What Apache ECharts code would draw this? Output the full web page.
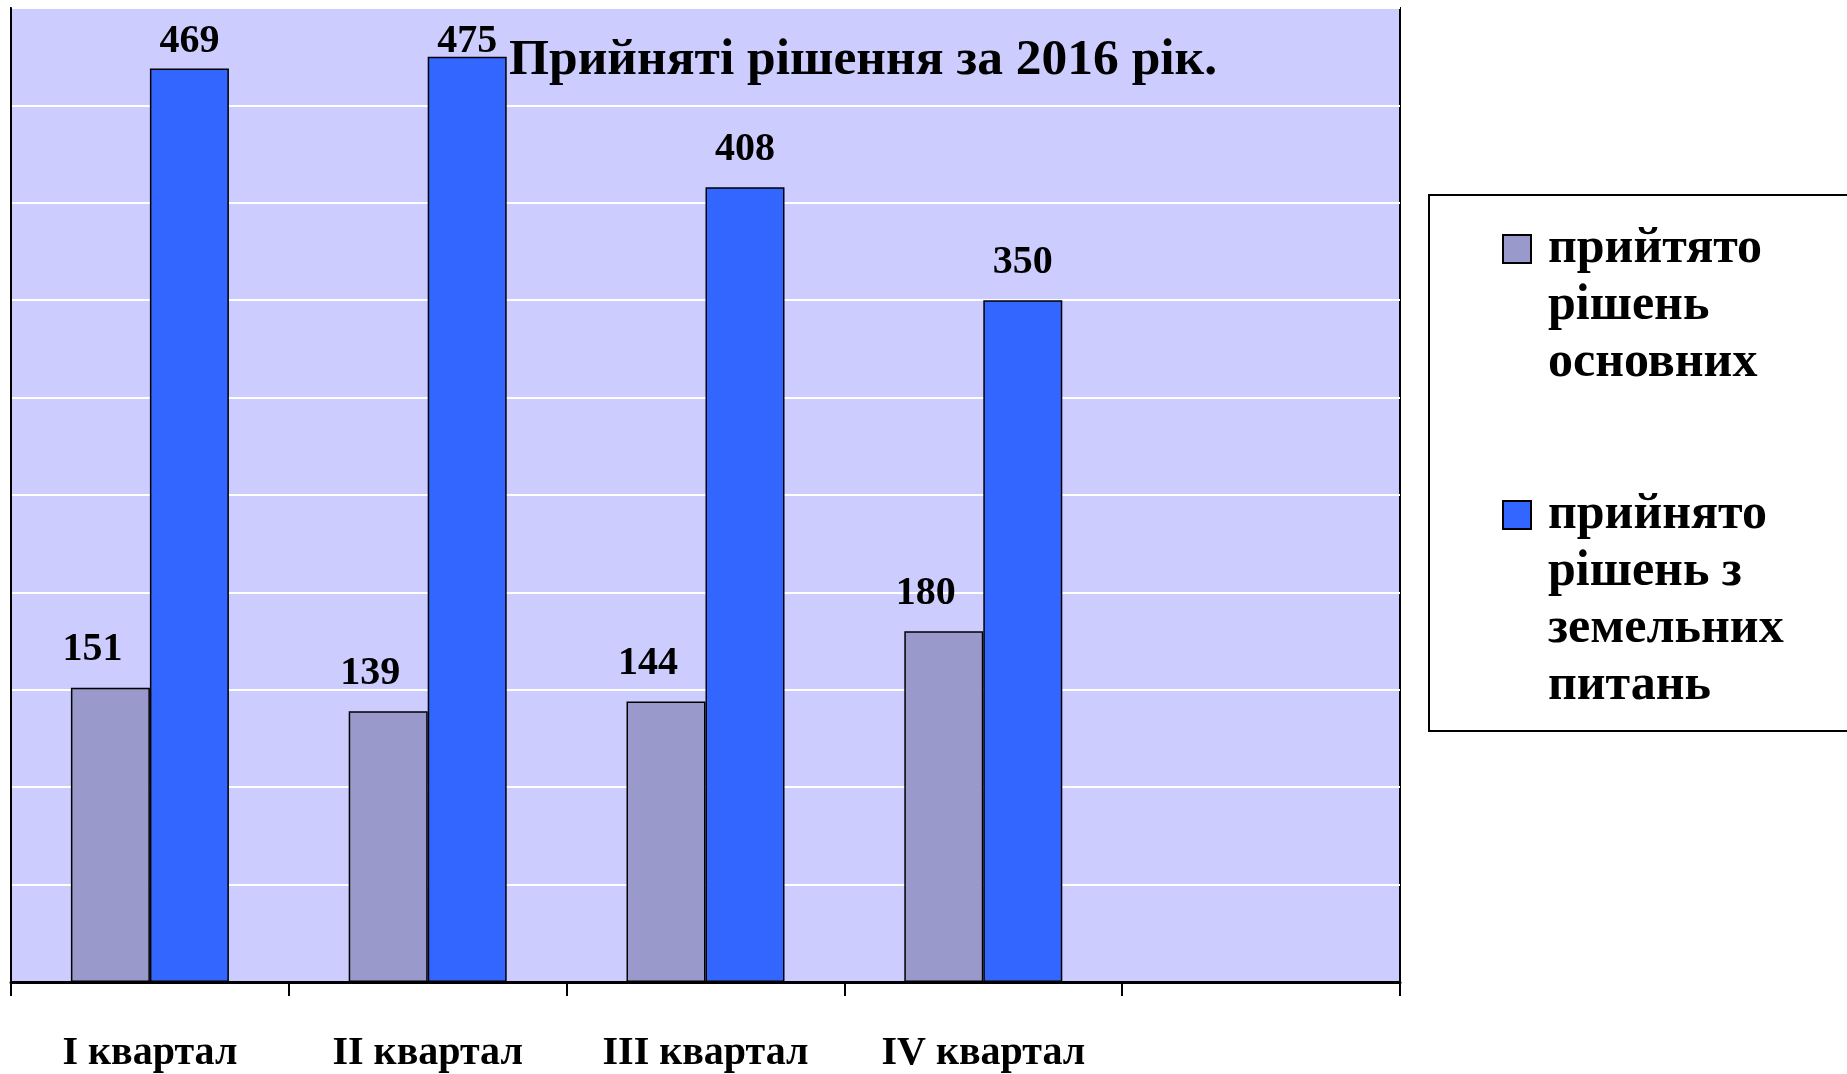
<!DOCTYPE html>
<html>
<head>
<meta charset="utf-8">
<script src="https://cdn.jsdelivr.net/npm/echarts@6/dist/echarts.min.js"></script>
<style>html,body{margin:0;padding:0;background:#fff;}#c{width:1847px;height:1074px;}</style>
</head>
<body>
<div id="c"></div>
<script>
const categories = ['I квартал', 'II квартал', 'III квартал', 'IV квартал', ''];
const seriesNames = ['прийтято\nрішень\nосновних', 'прийнято\nрішень з\nземельних\nпитань'];
const basicValues = [151, 139, 144, 180];
const landValues = [469, 475, 408, 350];
const titleText = 'Прийняті рішення за 2016 рік.';

const FONT = '"Liberation Serif", "Times New Roman", serif';
const chart = echarts.init(document.getElementById('c'), null, {renderer: 'canvas'});

function makeLayout(dx) {
  return function (params) {
    const out = {dx: dx};
    if (params.labelRect.y < 22) out.dy = 22 - params.labelRect.y;
    return out;
  };
}

// Put the first line of a multi-line legend label level with its marker
function alignFirstLine(name) {
  const n = name.split('\n').length;
  return '\n'.repeat(n - 1) + name;
}

const legendText = {fontFamily: FONT, fontWeight: 'bold', fontSize: 50, lineHeight: 57, color: '#000', padding: [0, 0, 0, 12]};

chart.setOption({
  backgroundColor: '#ffffff',
  animation: false,
  title: {
    text: titleText,
    left: 509,
    top: 35,
    padding: 0,
    textStyle: {fontFamily: FONT, fontWeight: 'bold', fontSize: 51.5, color: '#000'}
  },
  legend: [
    {
      data: [seriesNames[0]],
      orient: 'vertical',
      left: 1502,
      top: 249 - 142.5,
      padding: 0,
      itemWidth: 28,
      itemHeight: 28,
      icon: 'rect',
      selectedMode: false,
      formatter: alignFirstLine,
      textStyle: legendText
    },
    {
      data: [seriesNames[1]],
      orient: 'vertical',
      left: 1502,
      top: 515 - 199.5,
      padding: 0,
      itemWidth: 28,
      itemHeight: 28,
      icon: 'rect',
      selectedMode: false,
      formatter: alignFirstLine,
      textStyle: legendText
    }
  ],
  graphic: [
    {
      type: 'rect',
      shape: {x: 1429, y: 195, width: 440, height: 536},
      style: {fill: 'none', stroke: '#000', lineWidth: 2},
      silent: true
    }
  ],
  grid: {
    left: 11, right: 447, top: 8, bottom: 88,
    show: true,
    backgroundColor: '#CCCCFF',
    borderColor: '#000',
    borderWidth: 2,
    containLabel: false
  },
  xAxis: {
    type: 'category',
    data: categories,
    boundaryGap: true,
    axisLine: {show: true, lineStyle: {color: '#000', width: 3}},
    axisTick: {show: true, length: 14, lineStyle: {color: '#000', width: 2}},
    axisLabel: {fontFamily: FONT, fontWeight: 'bold', fontSize: 40, color: '#000', margin: 52, interval: 0},
    splitLine: {show: false}
  },
  yAxis: {
    type: 'value',
    min: 0,
    max: 500,
    interval: 50,
    axisLine: {show: true, lineStyle: {color: '#000', width: 2}},
    axisTick: {show: false},
    axisLabel: {show: false},
    splitLine: {show: true, lineStyle: {color: '#ffffff', width: 2}}
  },
  series: [
    {
      name: seriesNames[0],
      type: 'bar',
      data: basicValues,
      barWidth: 79,
      barGap: '0%',
      itemStyle: {color: '#9999CC', borderColor: '#000', borderWidth: 1.5},
      label: {show: true, position: 'top', distance: 18, fontFamily: FONT, fontWeight: 'bold', fontSize: 40, color: '#000'},
      labelLayout: makeLayout(-18)
    },
    {
      name: seriesNames[1],
      type: 'bar',
      data: landValues,
      barWidth: 79,
      barGap: '0%',
      itemStyle: {color: '#3366FF', borderColor: '#000', borderWidth: 1.5},
      label: {show: true, position: 'top', distance: 18, fontFamily: FONT, fontWeight: 'bold', fontSize: 40, color: '#000'},
      labelLayout: makeLayout(0)
    }
  ]
});
</script>
</body>
</html>
